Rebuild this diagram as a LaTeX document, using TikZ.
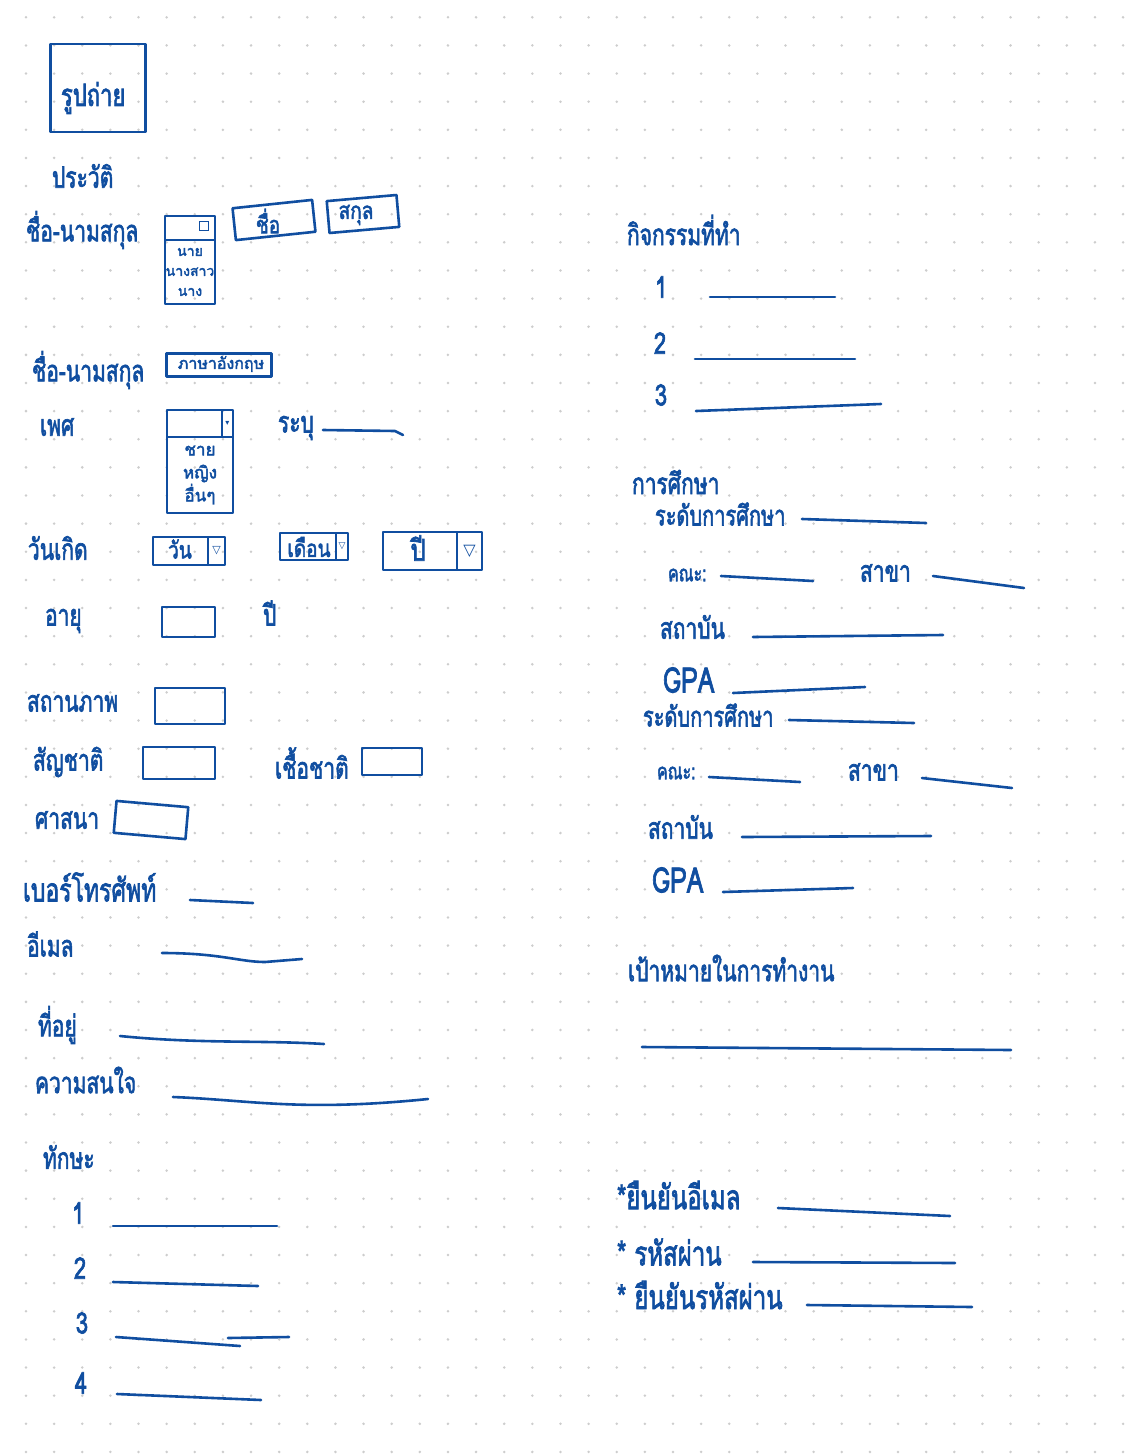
\documentclass[tikz,border=0pt]{standalone}
\usepackage{fontspec}
\setmainfont[Script=Thai, FakeBold=2.5]{Loma}
\newfontfamily\symfont{DejaVu Sans}
\usepackage{tikz}
\usetikzlibrary{positioning}
\definecolor{ink}{RGB}{16,78,160}
\definecolor{dotgrey}{RGB}{205,205,205}

\begin{document}
\begin{tikzpicture}[x=1pt, y=-1pt,
  every node/.style={text=ink, inner sep=0pt, outer sep=0pt},
  lbl/.style={anchor=west, yscale=1.4, font=\fontsize{21}{24}\selectfont},
  big/.style={anchor=west, yscale=1.4, font=\fontsize{24}{28}\selectfont},
  num/.style={yscale=1.35, font=\fontsize{22}{24}\selectfont},
  mid/.style={yscale=1.25, font=\fontsize{19}{20}\selectfont},
  arrowcell/.style={font=\symfont\fontsize{#1}{#1}\selectfont},
  box/.style={draw=ink, line width=2.6pt, line join=round},
  blank/.style={draw=ink, line width=2.6pt, line cap=round, line join=round}]

  \useasboundingbox (0,0) rectangle (1126,1454);
  \fill[white] (0,0) rectangle (1126,1454);
  \foreach \i in {0,...,39}
    \foreach \j in {0,...,51}
      \fill[dotgrey] (26+28.13*\i, 17.3+28.13*\j) circle (1.4pt);

  \node[box, minimum width=95pt, minimum height=88pt] (photo) at (98,88) {};
  \node[lbl, font=\fontsize{22}{24}\selectfont] (photolbl) at (61,98) {รูปถ่าย};
  \node[lbl] (profile) at (52,176) {ประวัติ};

  \node[lbl] (name) at (26,230) {ชื่อ-นามสกุล};
  \node[box, minimum width=50pt, minimum height=24pt] (title) at (190,228) {};
  \node[draw=ink, line width=1.8pt, minimum size=9pt] (titlesq) at (204,226) {};
  \node[box, font=\fontsize{14}{20}\selectfont, minimum width=50pt, minimum height=64pt, align=center, below=0pt of title] (titlelist) {นาย\\นางสาว\\นาง};
  \node[box, rotate=6, minimum width=80pt, minimum height=32pt] (first) at (274,220) {};
  \node[mid] (firstlbl) at (268,221) {ชื่อ};
  \node[box, rotate=5, minimum width=70pt, minimum height=32pt] (last) at (363,214) {};
  \node[mid] (lastlbl) at (356,215) {สกุล};

  \node[lbl] (nameen) at (32,370) {ชื่อ-นามสกุล};
  \node[box, minimum width=105pt, minimum height=23pt] (english) at (219,365) {};
  \node[font=\fontsize{16}{18}\selectfont] (englishlbl) at (221,364) {ภาษาอังกฤษ};

  \node[lbl] (sex) at (40,427) {เพศ};
  \node[box, minimum width=55pt, minimum height=27pt] (sexsel) at (194.5,423.5) {};
  \node[box, arrowcell=8, minimum width=11pt, minimum height=27pt, right=0pt of sexsel] (sexarr) {▾};
  \node[box, font=\fontsize{17}{23}\selectfont, minimum width=66pt, minimum height=76pt, align=center] (sexlist) at (200,475) {ชาย\\หญิง\\อื่นๆ};
  \node[lbl] (specify) at (278,428) {ระบุ};
  \draw[blank] (323,430) -- (395,431) -- (403,435);

  \node[lbl] (birth) at (28,548) {วันเกิด};
  \node[box, minimum width=55pt, minimum height=28pt] (day) at (180.5,551) {};
  \node[mid] (daylbl) at (180,549) {วัน};
  \node[box, arrowcell=11, minimum width=17pt, minimum height=28pt, right=0pt of day] (dayarr) {▽};
  \node[box, minimum width=56pt, minimum height=27pt] (month) at (308,546.5) {};
  \node[mid] (monthlbl) at (309,547) {เดือน};
  \node[box, arrowcell=9, minimum width=12pt, minimum height=27pt, right=0pt of month] (montharr) {▽};
  \node[box, minimum width=74pt, minimum height=38pt] (year) at (420,551) {};
  \node[mid, font=\fontsize{24}{26}\selectfont] (yearlbl) at (418,548) {ปี};
  \node[box, arrowcell=16, minimum width=25pt, minimum height=38pt, right=0pt of year] (yeararr) {▽};

  \node[lbl] (age) at (45,621) {อายุ};
  \node[box, minimum width=53pt, minimum height=30pt] (agebox) at (188.5,622) {};
  \node[lbl] (years) at (263,613) {ปี};

  \node[lbl] (status) at (27,703) {สถานภาพ};
  \node[box, minimum width=70pt, minimum height=36pt] (statusbox) at (190,706) {};
  \node[lbl] (nation) at (33,762) {สัญชาติ};
  \node[box, minimum width=72pt, minimum height=32pt] (nationbox) at (179,763) {};
  \node[lbl] (race) at (275,763) {เชื้อชาติ};
  \node[box, minimum width=60pt, minimum height=27pt] (racebox) at (392,761.5) {};
  \node[lbl] (religion) at (35,820) {ศาสนา};
  \node[box, rotate=-5, minimum width=72pt, minimum height=32pt] (religionbox) at (151,820) {};

  \node[lbl, font=\fontsize{23}{24}\selectfont] (phone) at (23,887) {เบอร์โทรศัพท์};
  \draw[blank] (190,900) -- (253,903);
  \node[lbl] (mail) at (27,944) {อีเมล};
  \draw[blank] (162,953) .. controls (220,953) and (240,962) .. (265,962) -- (302,959);
  \node[lbl] (address) at (38,1025) {ที่อยู่};
  \draw[blank] (120,1036) .. controls (200,1044) and (260,1040) .. (324,1044);
  \node[lbl] (interest) at (35,1080) {ความสนใจ};
  \draw[blank] (173,1097) .. controls (250,1100) and (300,1112) .. (428,1099);

  \node[lbl] (skills) at (43,1157) {ทักษะ};
  \node[num] (s1) at (78,1213) {1};
  \draw[blank] (113,1226) -- (277,1226);
  \node[num] (s2) at (80,1268) {2};
  \draw[blank] (113,1282) -- (258,1286);
  \node[num] (s3) at (82,1323) {3};
  \draw[blank] (116,1337) -- (240,1346);
  \draw[blank] (228,1338) -- (289,1337);
  \node[num] (s4) at (81,1383) {4};
  \draw[blank] (117,1394) -- (261,1400);

  \node[lbl] (activity) at (627,230) {กิจกรรมที่ทำ};
  \node[num] (a1) at (661,287) {1};
  \draw[blank] (710,297) -- (835,297);
  \node[num] (a2) at (660,343) {2};
  \draw[blank] (695,359) -- (855,359);
  \node[num] (a3) at (661,395) {3};
  \draw[blank] (696,411) -- (881,404);

  \node[lbl] (edu) at (632,482) {การศึกษา};
  \node[lbl, font=\fontsize{20}{24}\selectfont] (level1) at (655,514) {ระดับการศึกษา};
  \draw[blank] (802,519) -- (926,523);
  \node[lbl, font=\fontsize{16}{18}\selectfont] (faculty1) at (668,575) {คณะ:};
  \draw[blank] (721,576) -- (813,581);
  \node[lbl] (major1) at (860,573) {สาขา};
  \draw[blank] (933,576) -- (1024,588);
  \node[lbl] (inst1) at (660,627) {สถาบัน};
  \draw[blank] (753,637) -- (943,635);
  \node[lbl, font=\fontsize{25}{28}\selectfont] (gpa1) at (663,680) {GPA};
  \draw[blank] (733,693) -- (865,687);

  \node[lbl, font=\fontsize{20}{24}\selectfont] (level2) at (643,715) {ระดับการศึกษา};
  \draw[blank] (789,720) -- (914,723);
  \node[lbl, font=\fontsize{16}{18}\selectfont] (faculty2) at (657,773) {คณะ:};
  \draw[blank] (709,777) -- (800,782);
  \node[lbl] (major2) at (848,772) {สาขา};
  \draw[blank] (922,778) -- (1012,788);
  \node[lbl] (inst2) at (648,827) {สถาบัน};
  \draw[blank] (742,837) -- (931,836);
  \node[lbl, font=\fontsize{25}{28}\selectfont] (gpa2) at (652,880) {GPA};
  \draw[blank] (723,892) -- (853,888);

  \node[lbl] (goal) at (628,968) {เป้าหมายในการทำงาน};
  \draw[blank] (642,1047) -- (1011,1050);

  \node[big] (confmail) at (617,1195) {*ยืนยันอีเมล};
  \draw[blank] (778,1208) -- (950,1216);
  \node[big] (pass) at (617,1252) {* รหัสผ่าน};
  \draw[blank] (753,1262) -- (955,1263);
  \node[big] (confpass) at (617,1295) {* ยืนยันรหัสผ่าน};
  \draw[blank] (807,1305) -- (972,1307);
\end{tikzpicture}
\end{document}
